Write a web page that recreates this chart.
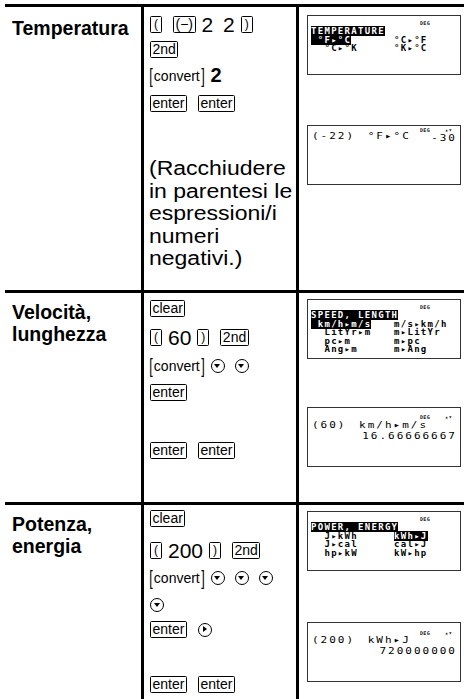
<!DOCTYPE html>
<html>
<head>
<meta charset="utf-8">
<script src="https://cdn.jsdelivr.net/npm/chart.js@4"></script>
<style>
  html, body { margin: 0; padding: 0; background: #fff; }
  body { width: 464px; height: 699px; position: relative; overflow: hidden; font-family: "Liberation Sans", Arial, sans-serif; color: #000; }
  .hline { position: absolute; left: 5px; right: 0; height: 2.5px; background: #000; }
  .vline { position: absolute; top: 5px; bottom: 0; width: 2.5px; background: #000; }
  .label { position: absolute; left: 12px; font-weight: bold; font-size: 19.5px; line-height: 22px; }
  .keys { position: absolute; left: 150px; display: flex; align-items: center; height: 17px; white-space: nowrap; }
  .key { display: inline-block; border: 1.2px solid #000; border-radius: 1.5px; font-size: 14px; line-height: 15px; padding: 0 1.5px; margin-right: 11px; height: 15px; }
  .key.paren { width: 10px; text-align: center; padding: 0; font-size: 12px; }
  .txt { font-size: 21px; margin-left: -5px; margin-right: 6px; word-spacing: 4px; }
  .bold { font-weight: bold; margin-left: 0; font-size: 20px; }
  .bracket { font-size: 14px; margin-right: 5px; margin-left: -2px; }
  .bracket b { font-weight: normal; font-size: 21px; transform: scaleX(0.6); display: inline-block; vertical-align: -2px; }
  .circ { display: inline-block; width: 12px; height: 12px; border: 1.4px solid #000; border-radius: 50%; position: relative; margin-right: 10px; }
  .circ.down::after { content: ""; position: absolute; left: 2.5px; top: 4px; border-left: 3.5px solid transparent; border-right: 3.5px solid transparent; border-top: 4px solid #000; }
  .circ.right::after { content: ""; position: absolute; left: 4.5px; top: 2.5px; border-top: 3.5px solid transparent; border-bottom: 3.5px solid transparent; border-left: 4px solid #000; }
  .note { position: absolute; left: 149px; font-size: 20px; line-height: 22.5px; transform: scaleX(1.15); transform-origin: left top; white-space: nowrap; }
  .screen { position: absolute; left: 307px; width: 152px; height: 58px; border: 1px solid #333; font-family: "DejaVu Sans Mono", monospace; font-weight: bold; }
  .deg { position: absolute; font-size: 5px; line-height: 5px; letter-spacing: 0.3px; color: #222; }
  .arr { position: absolute; font-size: 6px; line-height: 6px; color: #222; }
  .menu { position: absolute; font-size: 9px; line-height: 8.5px; letter-spacing: 1.3px; white-space: pre; }
  .inv { background: #000; color: #fff; }
  .expr { position: absolute; left: 4px; font-size: 11px; line-height: 10px; font-weight: normal; letter-spacing: 2px; white-space: pre; word-spacing: 4px; transform: scaleY(0.85); transform-origin: left top; }
  .val { position: absolute; right: 3px; font-size: 11px; line-height: 10px; font-weight: normal; letter-spacing: 2px; transform: scaleY(0.85); transform-origin: right top; }
</style>
</head>
<body>
<script>
// table content
var rowLabels = [["Temperatura"], ["Velocità,", "lunghezza"], ["Potenza,", "energia"]];

// key presses per row, one line each: k = key, t = typed text, b = [bracketed] key, B = bold digit, d/r = arrow circles
var keySteps = [
  [["k:(", "k:(−)", "t:2 2", "k:)"], ["k:2nd"], ["b:convert", "B:2"], ["k:enter", "k:enter"]],
  [["k:clear"], ["k:(", "t:60", "k:)", "k:2nd"], ["b:convert", "d:", "d:"], ["k:enter"], ["k:enter", "k:enter"]],
  [["k:clear"], ["k:(", "t:200", "k:)", "k:2nd"], ["b:convert", "d:", "d:", "d:"], ["d:"], ["k:enter", "r:"], ["k:enter", "k:enter"]]
];

var noteLines = ["(Racchiudere", "in parentesi le", "espressioni/i", "numeri", "negativi.)"];

var menuTitles = ["TEMPERATURE", "SPEED, LENGTH", "POWER, ENERGY"];
var menuLeft = [["°F▸°C", "°C▸°K"], ["km/h▸m/s", "LitYr▸m", "pc▸m", "Ang▸m"], ["J▸kWh", "J▸cal", "hp▸kW"]];
var menuRight = [["°C▸°F", "°K▸°C"], ["m/s▸km/h", "m▸LitYr", "m▸pc", "m▸Ang"], ["kWh▸J", "cal▸J", "kW▸hp"]];
var menuSelected = ["L", "L", "R"];

var resultExpr = ["(-22) °F▸°C", "(60) km/h▸m/s", "(200) kWh▸J"];
var resultValue = ["-30", "16.66666667", "720000000"];

// layout
var labelTops = [17, 301, 513];
var keyTops = [[16, 41, 67, 95], [300, 329, 357, 384, 442], [510, 542, 569, 596, 621, 676]];
var noteTop = 157;
var menuTops = [15, 299, 511];
var resultTops = [125, 407, 622];
var exprOffsets = [6, 13, 13];
var valueOffsets = [8, 24, 24];
var indicatorOffsets = [2, 7, 8];

function el(cls, css, html) {
  var d = document.createElement("div");
  d.className = cls;
  if (css) d.style.cssText = css;
  if (html != null) d.innerHTML = html;
  document.body.appendChild(d);
  return d;
}

// grid lines
el("hline", "top:4px");
el("hline", "top:290px");
el("hline", "top:502px");
el("vline", "left:141px");
el("vline", "left:296px");

rowLabels.forEach(function (lines, i) {
  el("label", "top:" + labelTops[i] + "px", lines.join("<br>"));
});

keySteps.forEach(function (row, i) {
  row.forEach(function (line, j) {
    var html = line.map(function (tok) {
      var kind = tok.split(":")[0], s = tok.slice(2);
      if (kind == "k") return '<span class="key' + (s.length == 1 ? " paren" : "") + '">' + s + "</span>";
      if (kind == "t") return '<span class="txt">' + s + "</span>";
      if (kind == "B") return '<span class="txt bold">' + s + "</span>";
      if (kind == "b") return '<span class="bracket"><b>[</b>' + s + "<b>]</b></span>";
      if (kind == "d") return '<span class="circ down"></span>';
      if (kind == "r") return '<span class="circ right"></span>';
      return "";
    }).join("");
    el("keys", "top:" + keyTops[i][j] + "px", html);
  });
});

el("note", "top:" + noteTop + "px", noteLines.join("<br>"));

menuTitles.forEach(function (title, i) {
  var s = el("screen", "top:" + menuTops[i] + "px");
  s.innerHTML = '<div class="deg" style="right:30px;top:5px">DEG</div>';
  var left = menuLeft[i].map(function (t, j) {
    return (j == 0 && menuSelected[i] == "L") ? '<span class="inv"> ' + t + "</span>" : "  " + t;
  });
  var right = menuRight[i].map(function (t, j) {
    return (j == 0 && menuSelected[i] == "R") ? '<span class="inv">' + t + "</span>" : t;
  });
  var m = document.createElement("div");
  m.className = "menu";
  m.style.cssText = "left:3px;top:11px";
  m.innerHTML = '<span class="inv">' + title + "</span><br>" + left.join("<br>");
  s.appendChild(m);
  var r = document.createElement("div");
  r.className = "menu";
  r.style.cssText = "left:86px;top:19.5px";
  r.innerHTML = right.join("<br>");
  s.appendChild(r);
});

resultExpr.forEach(function (expr, i) {
  var s = el("screen", "top:" + resultTops[i] + "px");
  s.innerHTML = '<div class="deg" style="right:30px;top:' + indicatorOffsets[i] + 'px">DEG</div>' +
    '<div class="arr" style="right:8px;top:' + (indicatorOffsets[i] - 1) + 'px">▴▾</div>' +
    '<div class="expr" style="top:' + exprOffsets[i] + 'px">' + expr + "</div>" +
    '<div class="val" style="top:' + valueOffsets[i] + 'px">' + resultValue[i] + "</div>";
});
</script>
</body>
</html>
